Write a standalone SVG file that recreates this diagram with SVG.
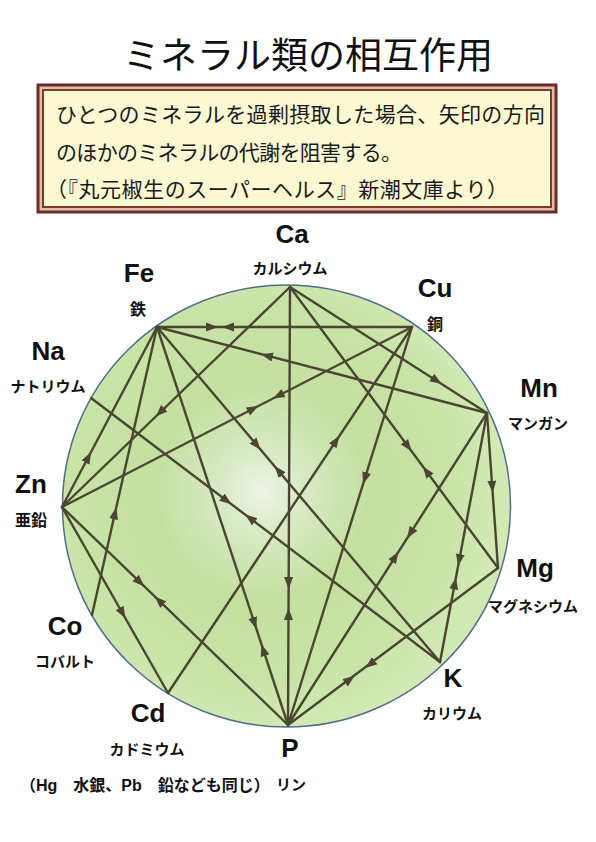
<svg xmlns="http://www.w3.org/2000/svg" width="596" height="842" viewBox="0 0 596 842">
<defs>
<style>
.ttl{font-family:"Noto Sans CJK JP",sans-serif;font-size:37px;font-weight:400;fill:#111}
.bx{font-family:"Noto Sans CJK JP",sans-serif;font-size:21px;font-weight:400;fill:#1a1a1a}
.sym{font-family:"Liberation Sans",Arial,sans-serif;font-size:26px;font-weight:bold;fill:#111;text-anchor:middle}
.jp{font-family:"Noto Sans CJK JP",sans-serif;font-size:15px;font-weight:bold;fill:#111;text-anchor:middle}
.kj{font-family:"Noto Sans CJK JP",sans-serif;font-size:16px;font-weight:bold;fill:#111;text-anchor:middle}
.note{font-family:"Liberation Sans","Noto Sans CJK JP",sans-serif;font-size:16px;font-weight:bold;fill:#111}
.c{stroke:#4a4632;stroke-width:2.4;fill:none;stroke-linecap:round}
.a{stroke:none;fill:none;marker-end:url(#ah)}
</style>
<radialGradient id="g" cx="262" cy="492" r="235" gradientUnits="userSpaceOnUse">
<stop offset="0" stop-color="#eef4e8"/>
<stop offset="0.18" stop-color="#d8eac4"/>
<stop offset="0.45" stop-color="#c4e0a0"/>
<stop offset="0.8" stop-color="#c8e3a6"/>
<stop offset="1" stop-color="#d2e9b4"/>
</radialGradient>
<marker id="ah" viewBox="0 0 12 10" refX="11" refY="5" markerWidth="12" markerHeight="10" markerUnits="userSpaceOnUse" orient="auto">
<path d="M0,0.5 L12,5 L0,9.5 z" fill="#4a4632"/>
</marker>
</defs>
<rect width="596" height="842" fill="#ffffff"/>
<text class="ttl" x="308" y="69" text-anchor="middle">ミネラル類の相互作用</text>
<g id="notebox">
<rect x="38" y="85" width="518" height="127" fill="#dcc0a8" stroke="#6e2a2a" stroke-width="3"/>
<rect x="43" y="90" width="508" height="117" fill="#fcf8d2" stroke="#7d3a2c" stroke-width="2"/>
<text class="bx" x="56" y="122" textLength="489" lengthAdjust="spacing">ひとつのミネラルを過剰摂取した場合、矢印の方向</text>
<text class="bx" x="56" y="160" textLength="346" lengthAdjust="spacing">のほかのミネラルの代謝を阻害する。</text>
<text class="bx" x="46" y="197" textLength="462" lengthAdjust="spacing">（『丸元椒生のスーパーヘルス』新潮文庫より）</text>
</g>
<ellipse id="circle" cx="286.5" cy="506" rx="224" ry="221" fill="url(#g)" stroke="#4d6e8c" stroke-width="1.5"/>
<g id="connectors">
<line class="c" x1="157" y1="327" x2="412" y2="327"/>
<path class="a" d="M157,327 L217,327"/>
<path class="a" d="M412,327 L223,327"/>
<line class="c" x1="487" y1="413" x2="157" y2="327"/>
<path class="a" d="M487,413 L262,354.4"/>
<line class="c" x1="290" y1="287" x2="62" y2="507"/>
<path class="a" d="M290,287 L156.4,415.9"/>
<line class="c" x1="290" y1="287" x2="487" y2="413"/>
<path class="a" d="M290,287 L441,383.5"/>
<line class="c" x1="290" y1="287" x2="498" y2="568"/>
<path class="a" d="M290,287 L411,450.5"/>
<path class="a" d="M498,568 L423.5,467.3"/>
<line class="c" x1="290" y1="287" x2="288" y2="725"/>
<path class="a" d="M290,287 L288.6,588"/>
<path class="a" d="M288,725 L288.5,609"/>
<line class="c" x1="412" y1="327" x2="62" y2="507"/>
<path class="a" d="M62,507 L257.7,406.4"/>
<path class="a" d="M412,327 L273.9,398.1"/>
<line class="c" x1="412" y1="327" x2="288" y2="725"/>
<path class="a" d="M412,327 L363.4,483.1"/>
<line class="c" x1="168" y1="693" x2="412" y2="327"/>
<path class="a" d="M168,693 L338.9,436.6"/>
<line class="c" x1="487" y1="413" x2="498" y2="568"/>
<path class="a" d="M487,413 L492.6,491.7"/>
<line class="c" x1="487" y1="413" x2="288" y2="725"/>
<path class="a" d="M487,413 L407.6,537.5"/>
<path class="a" d="M288,725 L398,552.5"/>
<line class="c" x1="487" y1="413" x2="440" y2="662"/>
<path class="a" d="M487,413 L458.3,565"/>
<path class="a" d="M440,662 L455.8,578.4"/>
<line class="c" x1="498" y1="568" x2="288" y2="725"/>
<path class="a" d="M498,568 L366,667.3"/>
<path class="a" d="M288,725 L354,676.3"/>
<line class="c" x1="157" y1="327" x2="440" y2="662"/>
<path class="a" d="M157,327 L260,448.9"/>
<path class="a" d="M440,662 L275.1,466.8"/>
<line class="c" x1="91" y1="398" x2="440" y2="662"/>
<path class="a" d="M91,398 L230.7,503.7"/>
<path class="a" d="M440,662 L246,515.2"/>
<line class="c" x1="62" y1="507" x2="288" y2="725"/>
<path class="a" d="M62,507 L143.6,585.7"/>
<path class="a" d="M288,725 L155.4,597.1"/>
<line class="c" x1="62" y1="507" x2="168" y2="693"/>
<path class="a" d="M62,507 L125,617.5"/>
<line class="c" x1="62" y1="507" x2="157" y2="327"/>
<path class="a" d="M62,507 L90.6,452.8"/>
<line class="c" x1="92" y1="615" x2="157" y2="327"/>
<path class="a" d="M92,615 L116,508.4"/>
<line class="c" x1="157" y1="327" x2="288" y2="725"/>
<path class="a" d="M157,327 L256.1,628"/>
<path class="a" d="M288,725 L261.7,645.2"/>
</g>
<g id="node-ca"><text class="sym" x="292" y="243">Ca</text><text class="jp" x="290" y="274">カルシウム</text></g>
<g id="node-fe"><text class="sym" x="139" y="282">Fe</text><text class="kj" x="138" y="315">鉄</text></g>
<g id="node-cu"><text class="sym" x="435" y="297">Cu</text><text class="kj" x="435" y="330">銅</text></g>
<g id="node-mn"><text class="sym" x="539" y="397">Mn</text><text class="jp" x="538" y="428.5">マンガン</text></g>
<g id="node-mg"><text class="sym" x="535" y="577">Mg</text><text class="jp" x="533" y="611.5">マグネシウム</text></g>
<g id="node-k"><text class="sym" x="453" y="687">K</text><text class="jp" x="452" y="718.5">カリウム</text></g>
<g id="node-p"><text class="sym" x="290" y="757">P</text><text class="jp" x="291" y="789.5">リン</text></g>
<g id="node-cd"><text class="sym" x="148" y="722">Cd</text><text class="jp" x="147" y="754.5">カドミウム</text></g>
<g id="node-co"><text class="sym" x="65" y="635">Co</text><text class="jp" x="65" y="666.5">コバルト</text></g>
<g id="node-zn"><text class="sym" x="31" y="493">Zn</text><text class="kj" x="31" y="526" font-size="17">亜鉛</text></g>
<g id="node-na"><text class="sym" x="48" y="360">Na</text><text class="jp" x="48" y="391.5">ナトリウム</text></g>
<text class="note" x="20" y="791">（Hg　水銀、Pb　鉛なども同じ）</text>
</svg>
